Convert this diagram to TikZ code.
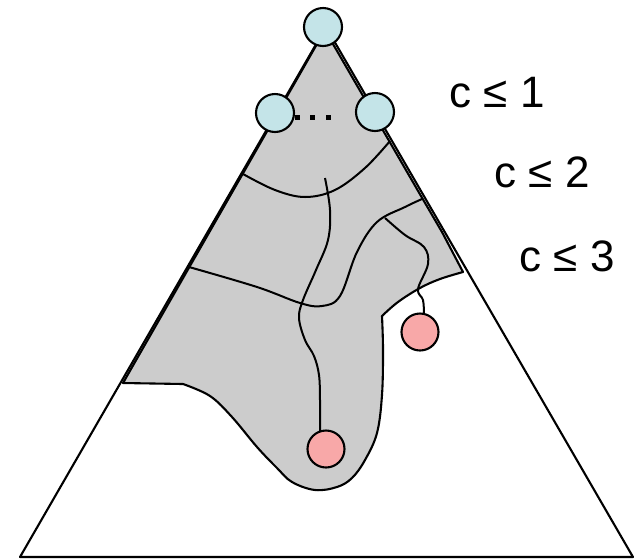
\documentclass[tikz,border=0pt]{standalone}
\usepackage{fontspec}
\setmainfont{Liberation Sans}
\definecolor{regiongray}{HTML}{CCCCCC}
\definecolor{rootblue}{HTML}{C4E4E8}
\definecolor{leafpink}{HTML}{F8A8A8}
\begin{document}
\begin{tikzpicture}[x=1pt,y=-1pt,line join=round,
  edge/.style={line width=2.1pt},
  curve/.style={line width=2pt},
  rootnode/.style={circle,draw,line width=2.1pt,fill=rootblue,minimum size=38pt,inner sep=0pt},
  leafnode/.style={circle,draw,line width=2.1pt,fill=leafpink,minimum size=37pt,inner sep=0pt},
  bound/.style={font=\fontsize{44}{52}\selectfont,inner sep=0pt}]
\useasboundingbox (0,0) rectangle (635,558);
% big triangle
\draw[edge] (20,557) -- (326,27) -- (633,557) -- cycle;
% gray explored region
\draw[edge,fill=regiongray] (317,44) -- (123,383) -- (183,384)
  -- plot[smooth,tension=0.6] coordinates {(183,384) (210,396) (232,417) (257,447) (277,468) (292,482) (315,490) (337,487) (352,478) (365,460) (377,433) (382,395) (383,350) (382,316)}
  -- plot[smooth,tension=0.6] coordinates {(382,316) (398,302) (420,288) (440,279) (463,272)}
  -- (442,232) -- (421,196) -- (333,44) -- cycle;
% level curves
\draw[curve] plot[smooth,tension=0.6] coordinates {(243,174) (275,190) (305,197) (335,190) (365,168) (390,141)};
\draw[curve] plot[smooth,tension=0.6] coordinates {(189,267) (257,287) (300,303) (322,306) (340,296) (357,252) (377,222) (405,207) (422,199)};
% nodes
\node[rootnode] (root) at (323,27) {};
\node[rootnode] (ca) at (275,113) {};
\node[rootnode] (cb) at (375,112) {};
\node[leafnode] (leafA) at (420,332) {};
\node[leafnode] (leafB) at (326,449) {};
% paths to leaves
\draw[curve] plot[smooth,tension=0.6] coordinates {(325,178) (330,210) (328,240) (316,270) (303,300) (299,318) (305,340) (314,356) (319,375) (320,400) (320,431)};
\draw[curve] plot[smooth,tension=0.6] coordinates {(385,218) (405,235) (424,247) (428,264) (418,289) (423,300) (424,314)};
% dots
\foreach \x in {297,312,328}
  \fill (\x-2.5,114.5) rectangle (\x+2.5,119.5);
% labels
\node[bound] (l1) at (497,93) {c ≤ 1};
\node[bound] (l2) at (542,172) {c ≤ 2};
\node[bound] (l3) at (567,256) {c ≤ 3};
\end{tikzpicture}
\end{document}
